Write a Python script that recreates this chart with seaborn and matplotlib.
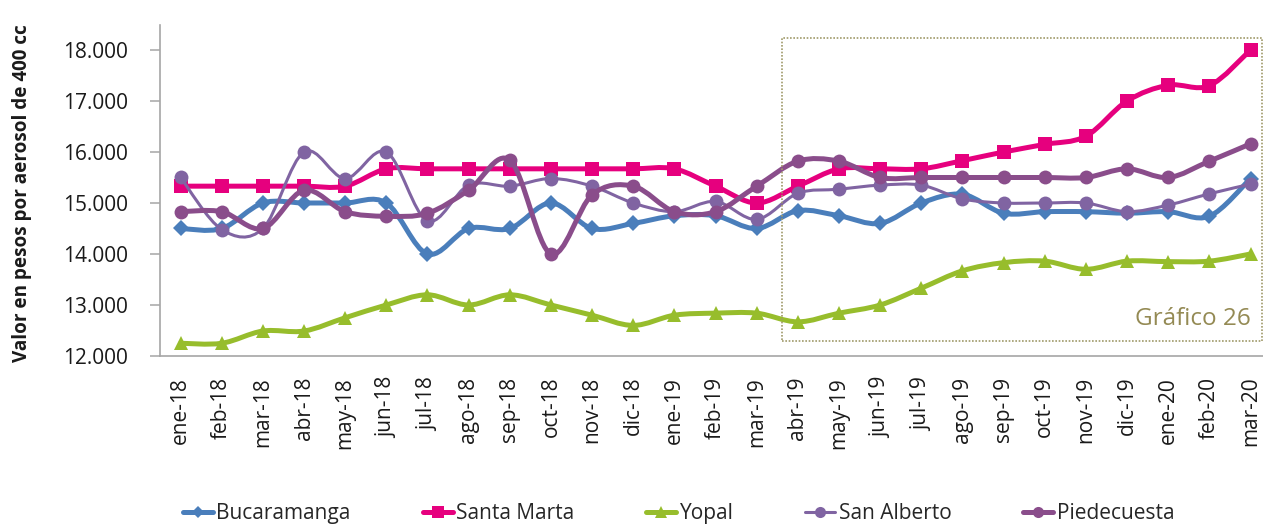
import numpy as np
import matplotlib
matplotlib.use("Agg")
import matplotlib.pyplot as plt
from matplotlib.path import Path
from matplotlib.patches import PathPatch, Rectangle
from matplotlib.lines import Line2D
from matplotlib.ticker import FuncFormatter, MultipleLocator
import seaborn as sns

# Monthly price of a 400 cc aerosol (pesos), by city
months = ["ene-18", "feb-18", "mar-18", "abr-18", "may-18", "jun-18", "jul-18",
          "ago-18", "sep-18", "oct-18", "nov-18", "dic-18", "ene-19", "feb-19",
          "mar-19", "abr-19", "may-19", "jun-19", "jul-19", "ago-19", "sep-19",
          "oct-19", "nov-19", "dic-19", "ene-20", "feb-20", "mar-20"]

bucaramanga = [14500, 14500, 15000, 15000, 15000, 15000, 14000, 14500, 14500,
               15000, 14500, 14600, 14750, 14750, 14500, 14850, 14750, 14600,
               15000, 15170, 14800, 14830, 14830, 14800, 14830, 14740, 15480]
santa_marta = [15330, 15330, 15330, 15330, 15330, 15670, 15670, 15670, 15670,
               15670, 15670, 15670, 15670, 15330, 15000, 15330, 15670, 15670,
               15670, 15830, 16000, 16150, 16310, 17000, 17310, 17300, 18000]
yopal = [12250, 12250, 12490, 12490, 12750, 13000, 13200, 13000, 13200,
         13000, 12800, 12600, 12800, 12840, 12840, 12670, 12840, 13000,
         13330, 13670, 13830, 13860, 13700, 13860, 13850, 13860, 14000]
san_alberto = [15500, 14480, 14500, 16000, 15480, 16000, 14650, 15350, 15330,
               15480, 15330, 15000, 14830, 15030, 14680, 15190, 15270, 15350,
               15350, 15080, 15000, 15000, 15000, 14830, 14960, 15180, 15370]
piedecuesta = [14830, 14830, 14500, 15250, 14830, 14740, 14800, 15250, 15840,
               14000, 15160, 15330, 14830, 14830, 15330, 15820, 15820, 15500,
               15500, 15500, 15500, 15500, 15500, 15670, 15500, 15820, 16160]

series = [
    # name, values, color, line width, marker, marker size
    ("Bucaramanga", bucaramanga, "#4A7EBB", 3.6, "D", 8),
    ("Santa Marta", santa_marta, "#E6007E", 3.6, "s", 10),
    ("Yopal", yopal, "#97BD2C", 3.6, "^", 10),
    ("San Alberto", san_alberto, "#8064A2", 2.2, "o", 10),
    ("Piedecuesta", piedecuesta, "#8A4D8B", 3.6, "o", 10),
]

sns.set_theme(style="white")
plt.rcParams["font.family"] = ["Open Sans", "DejaVu Sans"]

fig = plt.figure(figsize=(12.63, 5.24), dpi=100)
ax = fig.add_axes([0.1267, 0.3206, 0.8797, 0.6317])

x = np.arange(len(months))


def smooth_path(xs, ys):
    """Bezier path through every point with Catmull-Rom style tangents."""
    pts = np.column_stack([xs, ys]).astype(float)
    n = len(pts)
    verts = [pts[0]]
    codes = [Path.MOVETO]
    for i in range(n - 1):
        p0 = pts[i - 1] if i > 0 else pts[i]
        p1 = pts[i]
        p2 = pts[i + 1]
        p3 = pts[i + 2] if i + 2 < n else pts[i + 1]
        c1 = p1 + (p2 - p0) / 6.0
        c2 = p2 - (p3 - p1) / 6.0
        verts += [c1, c2, p2]
        codes += [Path.CURVE4] * 3
    return Path(verts, codes)


handles = []
for z, (name, vals, color, lw, mk, ms) in enumerate(series):
    ax.add_patch(PathPatch(smooth_path(x, vals), facecolor="none",
                           edgecolor=color, lw=lw, capstyle="round",
                           joinstyle="round", zorder=2 + z))
    sns.lineplot(x=x, y=vals, ax=ax, color=color, linewidth=0, marker=mk,
                 markersize=ms, markeredgewidth=0, zorder=2.5 + z,
                 legend=False)
    handles.append(Line2D([], [], color=color, lw=lw, marker=mk,
                          markersize=ms * 0.8, markeredgewidth=0))

ax.set_xlim(-0.5, len(months) - 0.5)
ax.set_ylim(12000, 18490)
ax.yaxis.set_major_locator(MultipleLocator(1000))
ax.yaxis.set_major_formatter(FuncFormatter(lambda v, _: f"{v:,.0f}".replace(",", ".")))
ax.set_xticks(x)
ax.set_xticklabels(months, rotation=90)
ax.set_xlabel("")
ax.set_ylabel("")

for side in ("top", "right"):
    ax.spines[side].set_visible(False)
for side in ("left", "bottom"):
    ax.spines[side].set_color("#A6A6A6")
    ax.spines[side].set_linewidth(1.2)

ax.tick_params(axis="y", which="major", direction="out", length=7, width=1.1,
               color="#A6A6A6", pad=16, labelsize=15, labelcolor="#1A1A1A", left=True)
ax.tick_params(axis="x", which="major", length=0, pad=15, labelsize=15,
               labelcolor="#1A1A1A")

fig.text(0.0174, 0.632, "Valor en pesos por aerosol de 400 cc", rotation=90,
         ha="center", va="center", fontsize=13.6, fontweight="bold", color="#1A1A1A")

# Highlight frame over the most recent year
fig.patches.append(Rectangle((0.619, 0.349), 0.380, 0.578, transform=fig.transFigure,
                             fill=False, edgecolor="#A09A6A", linestyle=(0, (1, 1)),
                             linewidth=1.2, zorder=1))
fig.text(0.990, 0.392, "Gráfico 26", ha="right", va="center", fontsize=17.5,
         color="#948A54")

fig.legend(handles, [s[0] for s in series], loc="center left",
           bbox_to_anchor=(0.145, 0.020), ncol=5, frameon=False, fontsize=15,
           handlelength=1.45, handletextpad=0.15, columnspacing=3.45,
           borderpad=0, borderaxespad=0)

fig.savefig("out.png", dpi=100)
